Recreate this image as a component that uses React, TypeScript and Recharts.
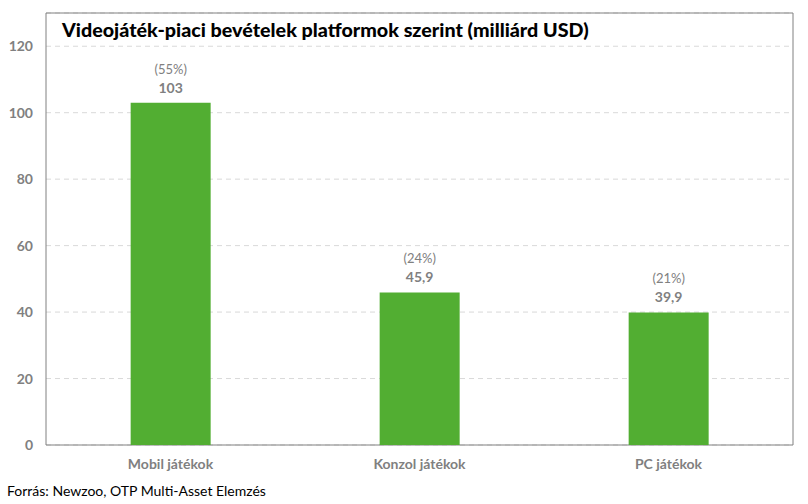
import { BarChart, Bar, XAxis, YAxis, CartesianGrid, ReferenceArea, LabelList } from "recharts";

const categories = ["Mobil játékok", "Konzol játékok", "PC játékok"];
const revenue = [103, 45.9, 39.9];
const shares = ["(55%)", "(24%)", "(21%)"];
const yTicks = [0, 20, 40, 60, 80, 100, 120];

const data = categories.map((name, i) => ({ name, value: revenue[i], share: shares[i] }));

const FONT = "Lato, 'Open Sans', sans-serif";
const GREY = "#808080";

function BarLabel(props: any) {
  const { x, y, width, index, value } = props;
  const cx = x + width / 2;
  const txt = String(value).replace(".", ",");
  return (
    <g>
      <text x={cx} y={y - 29} textAnchor="middle" fontSize={13} fill={GREY} fontFamily={FONT}>
        {shares[index]}
      </text>
      <text x={cx} y={y - 10} textAnchor="middle" fontSize={14} fontWeight="bold" fill={GREY} fontFamily={FONT}>
        {txt}
      </text>
    </g>
  );
}

export default function App() {
  return (
    <div style={{ position: "fixed", left: 0, top: 0, width: 808, height: 504, background: "#fff", fontFamily: FONT }}>
      <BarChart
        width={808}
        height={480}
        data={data}
        margin={{ top: 13, right: 15, bottom: 0, left: 0 }}
        barCategoryGap="34%"
      >
        <CartesianGrid vertical={false} stroke="#d9d9d9" strokeDasharray="5 4" />
        <XAxis
          dataKey="name"
          height={35}
          axisLine={false}
          tickLine={false}
          tickSize={0}
          tickMargin={14}
          tick={{ fill: GREY, fontSize: 14, fontWeight: "bold", fontFamily: FONT }}
        />
        <YAxis
          width={46}
          domain={[0, 130]}
          ticks={yTicks}
          allowDataOverflow
          axisLine={false}
          tickLine={false}
          tickSize={0}
          tickMargin={13}
          tick={{ fill: GREY, fontSize: 14, fontWeight: "bold", fontFamily: FONT }}
        />
        <ReferenceArea y1={0} y2={130} fill="none" stroke={GREY} strokeWidth={1} ifOverflow="visible" />
        <Bar dataKey="value" fill="#52ae32" isAnimationActive={false}>
          <LabelList dataKey="value" content={<BarLabel />} />
        </Bar>
      </BarChart>
      <div
        style={{
          position: "absolute",
          left: 62,
          top: 18,
          fontSize: 19.7,
          fontWeight: 900,
          color: "#000",
          whiteSpace: "nowrap",
        }}
      >
        Videojáték-piaci bevételek platformok szerint (milliárd USD)
      </div>
      <div style={{ position: "absolute", left: 7, top: 482, fontSize: 14, color: "#000", whiteSpace: "nowrap" }}>
        Forrás: Newzoo, OTP Multi-Asset Elemzés
      </div>
    </div>
  );
}
